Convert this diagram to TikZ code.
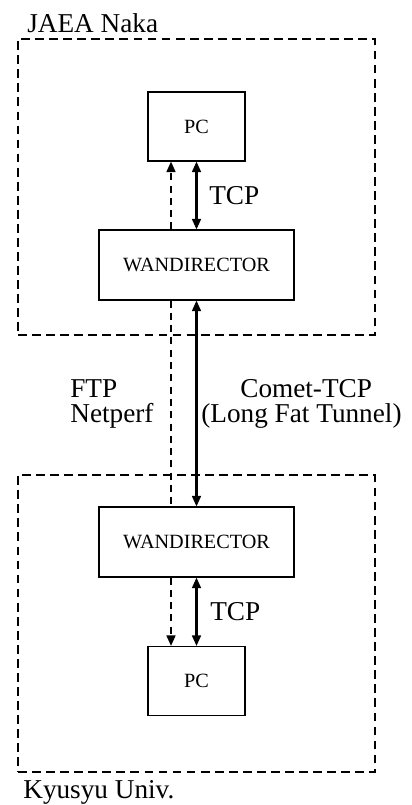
\documentclass[tikz,border=0pt]{standalone}
\usepackage{fontspec}
\setmainfont{Liberation Serif}
\usetikzlibrary{arrows.meta}

\begin{document}
\begin{tikzpicture}[x=0.02cm,y=-0.02cm]
        \tikzset{box/.style={draw,line width=0.6pt,font=\fontsize{11.5}{13}\selectfont},
                 zone/.style={draw,line width=0.7pt,dash pattern=on 5pt off 3pt,inner sep=0pt},
                 lbl/.style={anchor=base west,inner sep=0pt,font=\fontsize{15.5}{18}\selectfont},
                 link/.style={line width=1.2pt,>={Triangle[length=6pt,width=5pt]}},
                 dlink/.style={link,dash pattern=on 4pt off 3pt}}
        \useasboundingbox (0,0) rectangle (412,805);

        \node[zone,minimum width=7.14cm,minimum height=5.92cm] (Naka) at (196.5,187) {};
        \node[zone,minimum width=7.14cm,minimum height=5.94cm] (Kyu) at (196.5,623.5) {};

        \node[box,minimum width=1.94cm,minimum height=1.38cm] (PC1) at (196.5,126.5) {PC};
        \node[box,minimum width=3.9cm,minimum height=1.4cm] (WD1) at (196.5,265) {WANDIRECTOR};
        \node[box,minimum width=3.9cm,minimum height=1.4cm] (WD2) at (196.5,542) {WANDIRECTOR};
        \node[box,minimum width=1.94cm,minimum height=1.38cm] (PC2) at (196.5,681) {PC};

        \node[lbl] (LNaka) at (27,32) {JAEA Naka};
        \node[lbl] (LKyu) at (23,798) {Kyusyu Univ.};
        \node[lbl] (T1) at (209,204) {TCP};
        \node[lbl] (T2) at (210,620) {TCP};
        \node[lbl] (FTP) at (70,397) {FTP};
        \node[lbl] (NP) at (70,422) {Netperf};
        \node[lbl] (CT) at (240,397) {Comet-TCP};
        \node[lbl] (LFT) at (201,422) {(Long Fat Tunnel)};

        \draw[link,<->] (WD1.north) -- (PC1.south);
        \draw[link,<->] (WD1.south) -- (WD2.north);
        \draw[link,<->] (WD2.south) -- (PC2.north);

        \draw[dlink,->] ([xshift=-0.51cm]WD1.north) -- ([xshift=-0.51cm]PC1.south);
        \draw[dlink] ([xshift=-0.51cm]WD1.south) -- ([xshift=-0.51cm]WD2.north);
        \draw[dlink,->] ([xshift=-0.51cm]WD2.south) -- ([xshift=-0.51cm]PC2.north);
    \end{tikzpicture}
\end{document}
